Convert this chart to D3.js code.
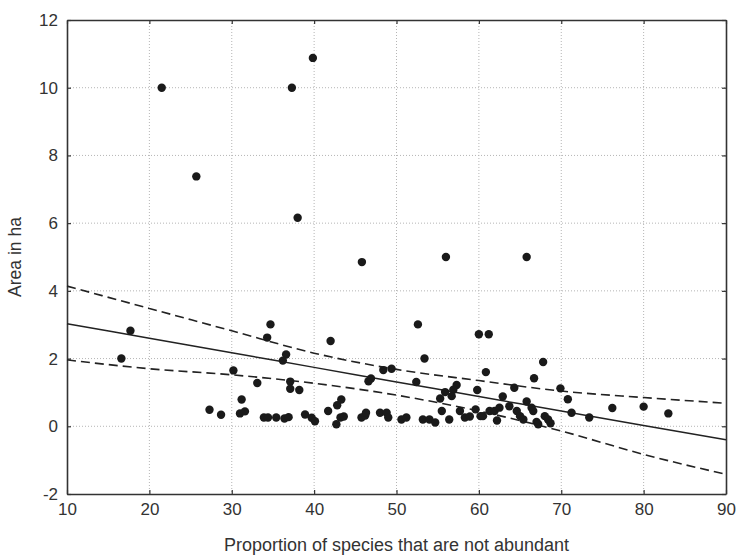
<!DOCTYPE html>
<html>
<head>
<meta charset="utf-8">
<script src="https://cdn.jsdelivr.net/npm/d3@7"></script>
<style>
  body { margin: 0; background: #fff; }
  text { font-family: "Liberation Sans", Arial, sans-serif; fill: #333; }
</style>
</head>
<body>
<div id="chart"></div>
<script>
// proportion of species that are not abundant (%), area in ha
const points = [
  [21.5, 10.0], [25.7, 7.38], [39.85, 10.88], [37.3, 10.0], [38.0, 6.16], [45.8, 4.85], [56.0, 5.0], [65.8, 5.0],
  [52.6, 3.01], [60.0, 2.72], [61.2, 2.72], [34.7, 3.01], [34.3, 2.62], [42.0, 2.52], [17.7, 2.82], [16.6, 2.0], [53.4, 2.0],
  [36.6, 2.12], [36.2, 1.94], [30.2, 1.65], [33.1, 1.28], [37.1, 1.32], [37.1, 1.11], [38.2, 1.07],
  [48.4, 1.66], [49.4, 1.70], [46.6, 1.33], [46.9, 1.41], [52.4, 1.31],
  [60.85, 1.60], [67.8, 1.90], [66.7, 1.42], [57.3, 1.22], [56.9, 1.08], [56.7, 0.89], [55.9, 1.01], [55.3, 0.82],
  [59.8, 1.07], [64.3, 1.14], [62.9, 0.88], [69.9, 1.12], [70.8, 0.80], [65.8, 0.73],
  [31.2, 0.79], [27.3, 0.49], [28.7, 0.34], [31.0, 0.38], [31.6, 0.44],
  [33.9, 0.26], [34.4, 0.26], [35.4, 0.26], [36.4, 0.23], [36.9, 0.27],
  [38.9, 0.35], [39.7, 0.25], [40.1, 0.15], [41.7, 0.45], [42.8, 0.62], [43.3, 0.79], [42.7, 0.06], [43.2, 0.26], [43.6, 0.29],
  [45.75, 0.26], [46.2, 0.32], [46.3, 0.40], [48.0, 0.40], [48.8, 0.40], [49.0, 0.26], [50.6, 0.20], [51.2, 0.26],
  [53.2, 0.20], [54.0, 0.20], [54.7, 0.11], [55.5, 0.45], [56.4, 0.20], [57.7, 0.45], [58.3, 0.26], [58.9, 0.29],
  [59.6, 0.50], [60.2, 0.30], [60.5, 0.30], [61.3, 0.45], [61.9, 0.45], [62.5, 0.55], [62.2, 0.17], [63.7, 0.59],
  [64.6, 0.45], [65.0, 0.30], [65.4, 0.20], [66.4, 0.55], [66.6, 0.45], [67.0, 0.13], [67.2, 0.06],
  [68.0, 0.30], [68.4, 0.20], [68.7, 0.09],
  [71.25, 0.40], [73.4, 0.26], [76.2, 0.54], [80.0, 0.58], [83.0, 0.38]
];

// fitted line and confidence band
const bandX     = [10,   20,   30,   40,   50,   60,   70,    80,    90];
const fitY      = [3.03, 2.60, 2.17, 1.74, 1.31, 0.88, 0.45,  0.02,  -0.40];
const bandUpper = [4.14, 3.48, 2.82, 2.16, 1.68, 1.35, 1.04,  0.85,  0.68];
const bandLower = [1.96, 1.70, 1.52, 1.27, 0.92, 0.45, -0.14, -0.83, -1.42];

const xTicks = [10, 20, 30, 40, 50, 60, 70, 80, 90];
const yTicks = [-2, 0, 2, 4, 6, 8, 10, 12];

const width = 737, height = 556;
const margin = {left: 67, right: 11, top: 20, bottom: 62};

const svg = d3.select('#chart')
  .append('svg')
  .attr('width', width)
  .attr('height', height);

const x = d3.scaleLinear().domain([10, 90]).range([margin.left, width - margin.right]);
const y = d3.scaleLinear().domain([-2, 12]).range([height - margin.bottom, margin.top]);

// dotted grid
svg.append('g')
  .selectAll('line')
  .data(xTicks.slice(1, -1))
  .enter()
  .append('line')
  .attr('x1', d => x(d)).attr('x2', d => x(d))
  .attr('y1', y(12)).attr('y2', y(-2))
  .attr('stroke', '#b5b5b5')
  .attr('stroke-dasharray', '1,2');

svg.append('g')
  .selectAll('line')
  .data(yTicks.slice(1, -1))
  .enter()
  .append('line')
  .attr('x1', x(10)).attr('x2', x(90))
  .attr('y1', d => y(d)).attr('y2', d => y(d))
  .attr('stroke', '#b5b5b5')
  .attr('stroke-dasharray', '1,2');

// plain hyphen for negatives, like the original
const fmt = d => String(d);

// axes, ticks pointing inward on all four sides
const axisB = svg.append('g')
  .attr('transform', `translate(0,${y(-2)})`)
  .call(d3.axisBottom(x).tickValues(xTicks).tickFormat(fmt).tickSizeInner(-4).tickSizeOuter(0).tickPadding(9));
const axisT = svg.append('g')
  .attr('transform', `translate(0,${y(12)})`)
  .call(d3.axisTop(x).tickValues(xTicks).tickSizeInner(-4).tickSizeOuter(0).tickFormat(''));
const axisL = svg.append('g')
  .attr('transform', `translate(${x(10)},0)`)
  .call(d3.axisLeft(y).tickValues(yTicks).tickFormat(fmt).tickSizeInner(-4).tickSizeOuter(0).tickPadding(9));
const axisR = svg.append('g')
  .attr('transform', `translate(${x(90)},0)`)
  .call(d3.axisRight(y).tickValues(yTicks).tickSizeInner(-4).tickSizeOuter(0).tickFormat(''));

[axisB, axisT, axisL, axisR].forEach(g => {
  g.select('.domain').attr('stroke', '#333').attr('stroke-width', 1.6);
  g.selectAll('.tick line').attr('stroke', '#333').attr('stroke-width', 1.2);
  g.selectAll('.tick text')
    .attr('font-size', 17)
    .attr('font-family', '"Liberation Sans", Arial, sans-serif')
    .attr('fill', '#333');
});

// regression line and confidence band
const line = d3.line()
  .x(d => x(d[0]))
  .y(d => y(d[1]))
  .curve(d3.curveMonotoneX);

svg.append('path')
  .datum(bandX.map((v, i) => [v, fitY[i]]))
  .attr('d', line)
  .attr('fill', 'none')
  .attr('stroke', '#222')
  .attr('stroke-width', 1.5);

[bandUpper, bandLower].forEach(band => {
  svg.append('path')
    .datum(bandX.map((v, i) => [v, band[i]]))
    .attr('d', line)
    .attr('fill', 'none')
    .attr('stroke', '#222')
    .attr('stroke-width', 1.6)
    .attr('stroke-dasharray', '9,5');
});

// points
svg.append('g')
  .selectAll('circle')
  .data(points)
  .enter()
  .append('circle')
  .attr('cx', d => x(d[0]))
  .attr('cy', d => y(d[1]))
  .attr('r', 4.2)
  .attr('fill', '#1a1a1a');

// axis titles
svg.append('text')
  .attr('x', (x(10) + x(90)) / 2)
  .attr('y', 551)
  .attr('text-anchor', 'middle')
  .attr('font-size', 18)
  .text('Proportion of species that are not abundant');

svg.append('text')
  .attr('transform', `translate(21,${(y(12) + y(-2)) / 2}) rotate(-90)`)
  .attr('text-anchor', 'middle')
  .attr('font-size', 17.5)
  .text('Area in ha');
</script>
</body>
</html>
